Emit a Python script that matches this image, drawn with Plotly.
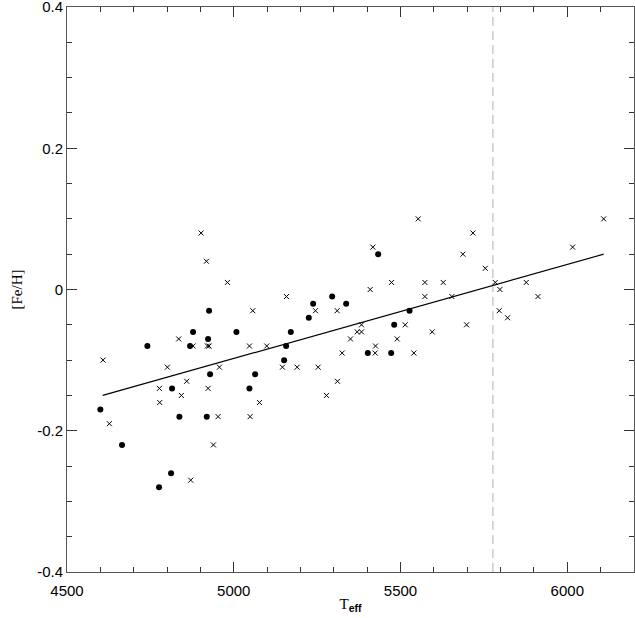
import plotly.graph_objects as go

# filled circles
dot_teff = [4600, 4665, 4741, 4776, 4812, 4815, 4837, 4869, 4878, 4919,
            4923, 4926, 4929, 5008, 5047, 5064, 5151, 5157, 5171, 5225,
            5238, 5295, 5337, 5402, 5433, 5472, 5481, 5527]
dot_feh = [-0.17, -0.22, -0.08, -0.28, -0.26, -0.14, -0.18, -0.08, -0.06, -0.18,
           -0.07, -0.03, -0.12, -0.06, -0.14, -0.12, -0.10, -0.08, -0.06, -0.04,
           -0.02, -0.01, -0.02, -0.09, 0.05, -0.09, -0.05, -0.03]

# crosses
cross_teff = [4608, 4627, 4777, 4778, 4801, 4835, 4843, 4859, 4871, 4878,
              4902, 4918, 4921, 4926, 4923, 4939, 4953, 4957, 4981, 5047,
              5049, 5057, 5077, 5099, 5146, 5158, 5190, 5245, 5253, 5278,
              5310, 5311, 5325, 5350, 5370, 5383, 5383, 5409, 5417, 5424,
              5425, 5473, 5490, 5514, 5540, 5553, 5573, 5573, 5595, 5628,
              5654, 5687, 5698, 5717, 5754, 5784, 5796, 5798, 5821, 5877,
              5912, 6016, 6109]
cross_feh = [-0.10, -0.19, -0.14, -0.16, -0.11, -0.07, -0.15, -0.13, -0.27, -0.08,
             0.08, 0.04, -0.08, -0.08, -0.14, -0.22, -0.18, -0.11, 0.01, -0.08,
             -0.18, -0.03, -0.16, -0.08, -0.11, -0.01, -0.11, -0.03, -0.11, -0.15,
             -0.03, -0.13, -0.09, -0.07, -0.06, -0.06, -0.05, 0.0, 0.06, -0.09,
             -0.08, 0.01, -0.07, -0.05, -0.09, 0.10, 0.01, -0.01, -0.06, 0.01,
             -0.01, 0.05, -0.05, 0.08, 0.03, 0.01, -0.03, 0.0, -0.04, 0.01,
             -0.01, 0.06, 0.10]

# fitted trend line end points
fit_teff = [4607, 6109]
fit_feh = [-0.15, 0.05]

sun_teff = 5777

x_ticks = [4500, 5000, 5500, 6000]
y_ticks = [-0.4, -0.2, 0, 0.2, 0.4]
y_ticklabels = ["-0.4", "-0.2", "0", "0.2", "0.4"]

fig = go.Figure()

fig.add_trace(go.Scatter(
    x=[sun_teff, sun_teff], y=[-0.4, 0.4], mode="lines",
    line=dict(color="#b0b0b0", width=1, dash="9px,5px"),
    showlegend=False, hoverinfo="skip"))

fig.add_trace(go.Scatter(
    x=fit_teff, y=fit_feh, mode="lines",
    line=dict(color="black", width=1.2), showlegend=False))

fig.add_trace(go.Scatter(
    x=cross_teff, y=cross_feh, mode="markers",
    marker=dict(symbol="x-thin", size=5, line=dict(color="black", width=1)),
    showlegend=False))

fig.add_trace(go.Scatter(
    x=dot_teff, y=dot_feh, mode="markers",
    marker=dict(symbol="circle", size=6, color="black"),
    showlegend=False))

axis_common = dict(
    showgrid=False, zeroline=False,
    showline=True, linecolor="#555", linewidth=1, mirror="allticks",
    ticks="inside", tickcolor="#333", ticklen=10, tickwidth=1,
    ticklabeloverflow="allow",
    tickfont=dict(family="Liberation Sans", size=15, color="black"),
)

fig.update_xaxes(
    range=[4500, 6200], tickvals=x_ticks, ticklabelstandoff=5,
    minor=dict(dtick=100, ticks="inside", ticklen=5, tickcolor="#333"),
    title=dict(text="T<sub><span style='font-family:Liberation Sans'><b>eff</b></span></sub>",
               font=dict(family="Liberation Serif", size=15, color="black"),
               standoff=0),
    **axis_common)

fig.update_yaxes(
    range=[-0.4, 0.4], tickvals=y_ticks, ticktext=y_ticklabels,
    minor=dict(dtick=0.05, tick0=0, ticks="inside", ticklen=5, tickcolor="#333"),
    title=dict(text="[Fe/H]",
               font=dict(family="Liberation Serif", size=15, color="black"),
               standoff=10),
    **axis_common)

fig.update_layout(
    width=635, height=618,
    margin=dict(l=67, r=1, t=7, b=46, autoexpand=False),
    plot_bgcolor="white", paper_bgcolor="white",
)

fig.write_html("out.html", config={"displayModeBar": False},
               post_script="document.body.style.margin='0';")
